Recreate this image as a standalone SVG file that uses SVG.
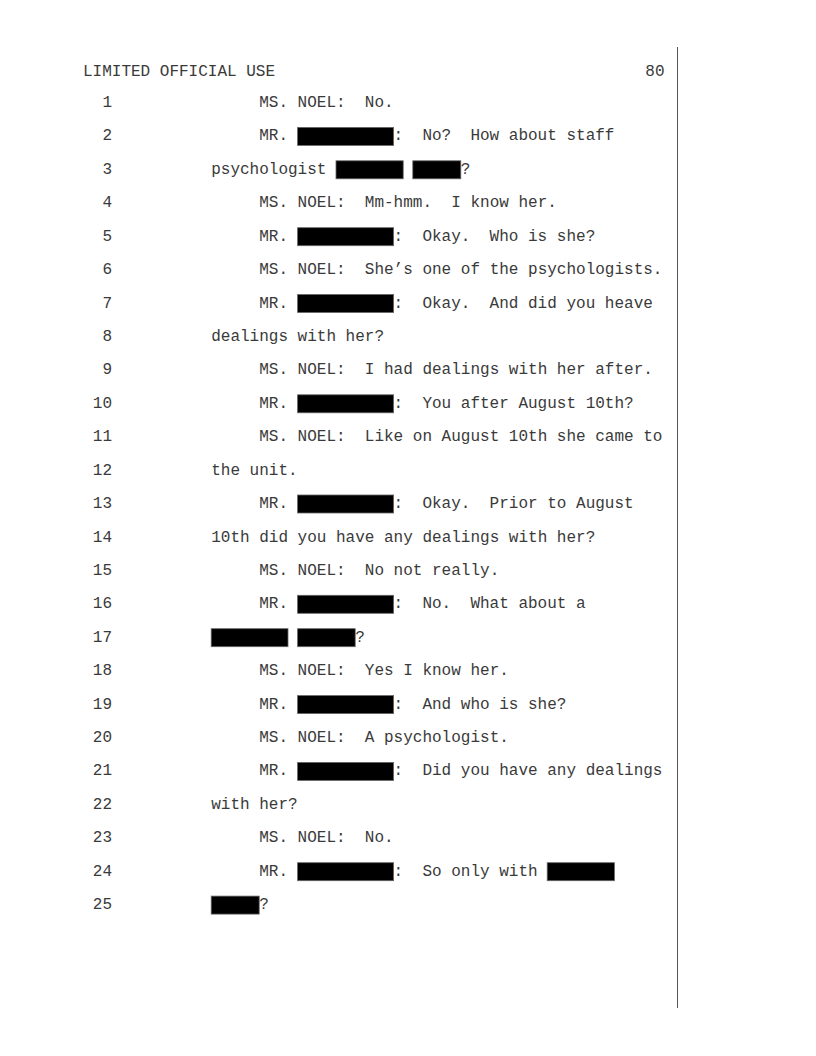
<svg xmlns="http://www.w3.org/2000/svg" width="816" height="1056" viewBox="0 0 816 1056" xml:space="preserve">
<style>
text{font-family:"Liberation Mono","Courier New",monospace;font-size:16px;fill:#3a3a3a;white-space:pre}
.n{text-anchor:end}
.r{fill:#000;stroke:#666;stroke-width:0.8}
</style>
<rect width="816" height="1056" fill="#fff"/>
<g id="header">
<text x="83" y="76">LIMITED OFFICIAL USE</text>
<text x="664.5" y="76" class="n">80</text>
</g>
<g id="margin-rule"><line x1="677.5" y1="47" x2="677.5" y2="1008" stroke="#555" stroke-width="1"/></g>
<g id="numbers">
<text class="n" x="112" y="107">1</text>
<text class="n" x="112" y="140.4">2</text>
<text class="n" x="112" y="173.8">3</text>
<text class="n" x="112" y="207.3">4</text>
<text class="n" x="112" y="240.7">5</text>
<text class="n" x="112" y="274.1">6</text>
<text class="n" x="112" y="307.5">7</text>
<text class="n" x="112" y="340.9">8</text>
<text class="n" x="112" y="374.4">9</text>
<text class="n" x="112" y="407.8">10</text>
<text class="n" x="112" y="441.2">11</text>
<text class="n" x="112" y="474.6">12</text>
<text class="n" x="112" y="508">13</text>
<text class="n" x="112" y="541.5">14</text>
<text class="n" x="112" y="574.9">15</text>
<text class="n" x="112" y="608.3">16</text>
<text class="n" x="112" y="641.7">17</text>
<text class="n" x="112" y="675.1">18</text>
<text class="n" x="112" y="708.6">19</text>
<text class="n" x="112" y="742">20</text>
<text class="n" x="112" y="775.4">21</text>
<text class="n" x="112" y="808.8">22</text>
<text class="n" x="112" y="842.2">23</text>
<text class="n" x="112" y="875.7">24</text>
<text class="n" x="112" y="909.1">25</text>
</g>
<g id="line1"><text x="259.2" y="107">MS. NOEL:  No.</text></g>
<g id="line2"><text x="259.2" y="140.4">MR.</text><rect class="r" x="297.6" y="127.4" width="96" height="18"/><text x="393.6" y="140.4">:  No?  How about staff</text></g>
<g id="line3"><text x="211.2" y="173.8">psychologist</text><rect class="r" x="336" y="160.8" width="67.2" height="18"/><rect class="r" x="412.8" y="160.8" width="48" height="18"/><text x="460.8" y="173.8">?</text></g>
<g id="line4"><text x="259.2" y="207.3">MS. NOEL:  Mm-hmm.  I know her.</text></g>
<g id="line5"><text x="259.2" y="240.7">MR.</text><rect class="r" x="297.6" y="227.7" width="96" height="18"/><text x="393.6" y="240.7">:  Okay.  Who is she?</text></g>
<g id="line6"><text x="259.2" y="274.1">MS. NOEL:  She’s one of the psychologists.</text></g>
<g id="line7"><text x="259.2" y="307.5">MR.</text><rect class="r" x="297.6" y="294.5" width="96" height="18"/><text x="393.6" y="307.5">:  Okay.  And did you heave</text></g>
<g id="line8"><text x="211.2" y="340.9">dealings with her?</text></g>
<g id="line9"><text x="259.2" y="374.4">MS. NOEL:  I had dealings with her after.</text></g>
<g id="line10"><text x="259.2" y="407.8">MR.</text><rect class="r" x="297.6" y="394.8" width="96" height="18"/><text x="393.6" y="407.8">:  You after August 10th?</text></g>
<g id="line11"><text x="259.2" y="441.2">MS. NOEL:  Like on August 10th she came to</text></g>
<g id="line12"><text x="211.2" y="474.6">the unit.</text></g>
<g id="line13"><text x="259.2" y="508">MR.</text><rect class="r" x="297.6" y="495" width="96" height="18"/><text x="393.6" y="508">:  Okay.  Prior to August</text></g>
<g id="line14"><text x="211.2" y="541.5">10th did you have any dealings with her?</text></g>
<g id="line15"><text x="259.2" y="574.9">MS. NOEL:  No not really.</text></g>
<g id="line16"><text x="259.2" y="608.3">MR.</text><rect class="r" x="297.6" y="595.3" width="96" height="18"/><text x="393.6" y="608.3">:  No.  What about a</text></g>
<g id="line17"><rect class="r" x="211.2" y="628.7" width="76.8" height="18"/><rect class="r" x="297.6" y="628.7" width="57.6" height="18"/><text x="355.2" y="641.7">?</text></g>
<g id="line18"><text x="259.2" y="675.1">MS. NOEL:  Yes I know her.</text></g>
<g id="line19"><text x="259.2" y="708.6">MR.</text><rect class="r" x="297.6" y="695.6" width="96" height="18"/><text x="393.6" y="708.6">:  And who is she?</text></g>
<g id="line20"><text x="259.2" y="742">MS. NOEL:  A psychologist.</text></g>
<g id="line21"><text x="259.2" y="775.4">MR.</text><rect class="r" x="297.6" y="762.4" width="96" height="18"/><text x="393.6" y="775.4">:  Did you have any dealings</text></g>
<g id="line22"><text x="211.2" y="808.8">with her?</text></g>
<g id="line23"><text x="259.2" y="842.2">MS. NOEL:  No.</text></g>
<g id="line24"><text x="259.2" y="875.7">MR.</text><rect class="r" x="297.6" y="862.7" width="96" height="18"/><text x="393.6" y="875.7">:  So only with</text><rect class="r" x="547.2" y="862.7" width="67.2" height="18"/></g>
<g id="line25"><rect class="r" x="211.2" y="896.1" width="48" height="18"/><text x="259.2" y="909.1">?</text></g>
</svg>
